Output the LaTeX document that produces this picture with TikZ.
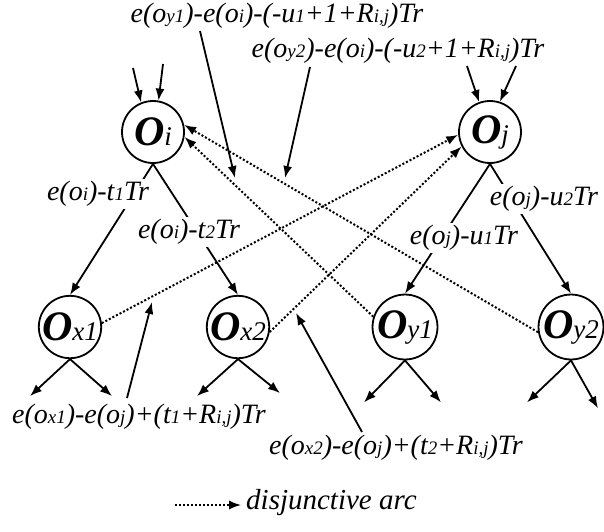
\documentclass[tikz,border=0pt]{standalone}
\usepackage{fontspec}
\setmainfont{Liberation Serif}
\usetikzlibrary{arrows.meta}
\newcommand{\lsub}[1]{{\fontsize{19}{19}\selectfont #1}}
\newcommand{\opn}[1]{{\fontsize{42}{42}\selectfont\bfseries\itshape O}{\fontsize{27}{27}\selectfont\itshape #1}}
\begin{document}
\begin{tikzpicture}[x=1pt,y=-1pt,
  op/.style={circle, draw, line width=1.8pt, minimum size=62pt, inner sep=0pt},
  arr/.style={line width=1.8pt, -{Latex[length=12pt,width=9pt]}},
  dis/.style={line width=2pt, dotted, -{Latex[length=12pt,width=9pt]}},
  lab/.style={font=\fontsize{28}{28}\selectfont\itshape, inner sep=2pt, fill=white},
  tlab/.style={font=\fontsize{28}{28}\selectfont\itshape, inner sep=1pt}]
\useasboundingbox (0,0) rectangle (604,531);
% nodes
\node[op] (oi) at (153,132) {\opn{i}};
\node[op] (oj) at (490,132) {\opn{j}};
\node[op] (ox1) at (70,327) {\opn{x1}};
\node[op] (ox2) at (238,327) {\opn{x2}};
\node[op] (oy1) at (405,327) {\opn{y1}};
\node[op] (oy2) at (571,327) {\opn{y2}};
% incoming arrows
\coordinate (i1) at (133,68); \coordinate (i2) at (163,64);
\coordinate (j1) at (467,66); \coordinate (j2) at (516,66);
\draw[arr] (i1) -- (oi.112);
\draw[arr] (i2) -- (oi.80);
\draw[arr] (j1) -- (oj.110);
\draw[arr] (j2) -- (oj.72);
% outgoing arrows of lower nodes
\draw[arr] (ox1.south) -- ++(-40,37);
\draw[arr] (ox1.south) -- ++(42,37);
\draw[arr] (ox2.south) -- ++(-41,37);
\draw[arr] (ox2.south) -- ++(42,34);
\draw[arr] (oy1.south) -- ++(-41,42);
\draw[arr] (oy1.south) -- ++(36,42);
\draw[arr] (oy2.south) -- ++(-44,42);
\draw[arr] (oy2.south) -- ++(27,48);
% conjunctive arcs with labels
\draw[arr] (oi.south) -- (ox1.north);
\draw[arr] (oi.south) -- (ox2.north);
\draw[arr] (oj.south) -- (oy1.north);
\draw[arr] (oj.south) -- (oy2.north);
\node[lab] (l1) at (98,194) {e(o\lsub{i})-t\lsub{1}Tr};
\node[lab] (l2) at (189,232) {e(o\lsub{i})-t\lsub{2}Tr};
\node[lab] (l3) at (464,238) {e(o\lsub{j})-u\lsub{1}Tr};
\node[lab] (l4) at (544,199) {e(o\lsub{j})-u\lsub{2}Tr};
% disjunctive arcs
\draw[dis] (oy2.189) -- (oi.13);
\draw[dis] (oy1.162) -- (oi.-9);
\draw[dis] (ox1.7) -- (oj.185);
\draw[dis] (ox2.-9) -- (oj.207);
% annotation labels
\node[tlab] (t1) at (277,16) {e(o\lsub{y1})-e(o\lsub{i})-(-u\lsub{1}+1+R\lsub{i,j})Tr};
\node[tlab] (t2) at (398,51) {e(o\lsub{y2})-e(o\lsub{i})-(-u\lsub{2}+1+R\lsub{i,j})Tr};
\node[tlab] (b1) at (139,417) {e(o\lsub{x1})-e(o\lsub{j})+(t\lsub{1}+R\lsub{i,j})Tr};
\node[tlab] (b2) at (396,448) {e(o\lsub{x2})-e(o\lsub{j})+(t\lsub{2}+R\lsub{i,j})Tr};
\coordinate (t1s) at (200,31); \coordinate (t1e) at (235,178);
\coordinate (t2s) at (310,67); \coordinate (t2e) at (285,178);
\coordinate (b1s) at (127,398); \coordinate (b1e) at (152,302);
\coordinate (b2s) at (362,432); \coordinate (b2e) at (296,313);
\draw[arr] (t1s) -- (t1e);
\draw[arr] (t2s) -- (t2e);
\draw[arr] (b1s) -- (b1e);
\draw[arr] (b2s) -- (b2e);
% legend
\coordinate (lg1) at (175,505); \coordinate (lg2) at (241,505);
\draw[dis, line width=1.5pt] (lg1) -- (lg2);
\node[anchor=west, font=\fontsize{29}{29}\selectfont\itshape, inner sep=0pt] (lgt) at (246,503) {disjunctive arc};
\end{tikzpicture}
\end{document}
